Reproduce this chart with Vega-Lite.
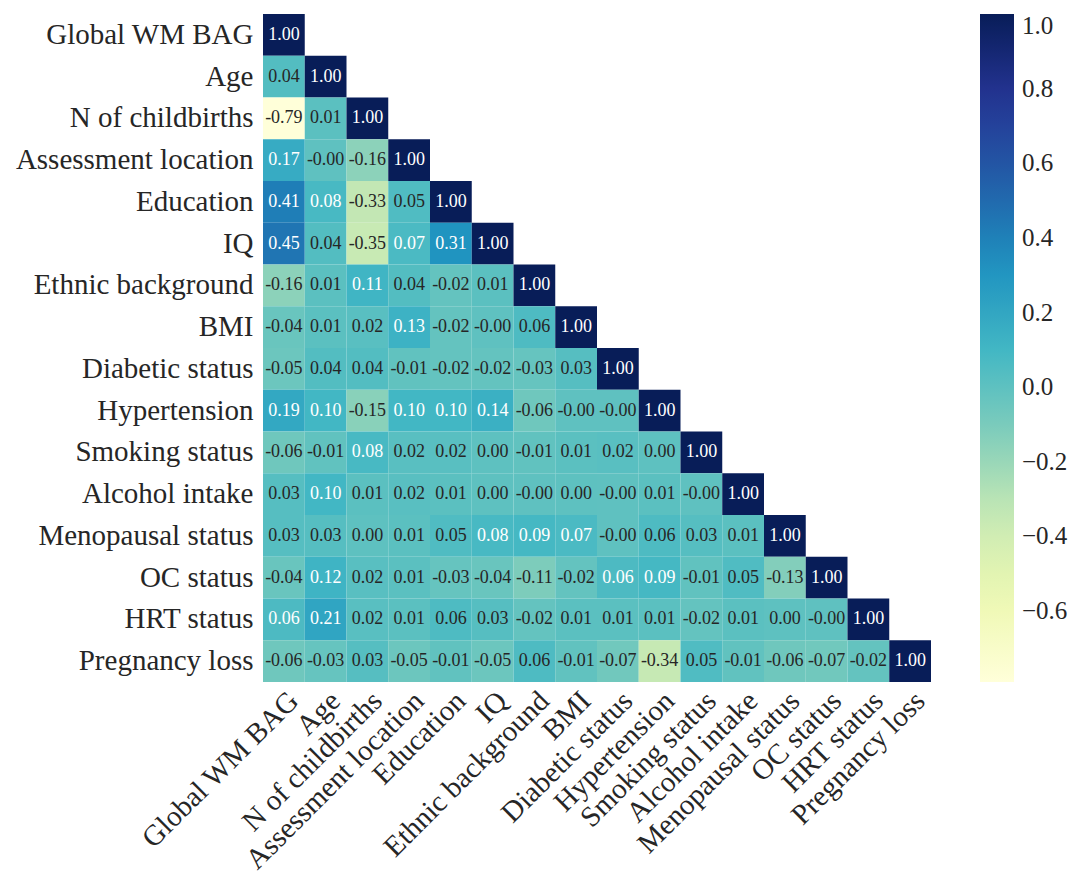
{
  "$schema": "https://vega.github.io/schema/vega-lite/v6.json",
  "width": 668,
  "height": 668,
  "background": "white",
  "padding": {"left": 15, "top": 14, "right": 5, "bottom": 5},
  "config": {
    "view": {"stroke": null},
    "font": "Liberation Serif"
  },
  "datasets": {
    "m": [
      {"r":"Global WM BAG","c":"Global WM BAG","v":1.0},
      {"r":"Age","c":"Global WM BAG","v":0.04},{"r":"Age","c":"Age","v":1.0},
      {"r":"N of childbirths","c":"Global WM BAG","v":-0.79},{"r":"N of childbirths","c":"Age","v":0.01},{"r":"N of childbirths","c":"N of childbirths","v":1.0},
      {"r":"Assessment location","c":"Global WM BAG","v":0.17},{"r":"Assessment location","c":"Age","v":-0.002},{"r":"Assessment location","c":"N of childbirths","v":-0.16},{"r":"Assessment location","c":"Assessment location","v":1.0},
      {"r":"Education","c":"Global WM BAG","v":0.41},{"r":"Education","c":"Age","v":0.08},{"r":"Education","c":"N of childbirths","v":-0.33},{"r":"Education","c":"Assessment location","v":0.05},{"r":"Education","c":"Education","v":1.0},
      {"r":"IQ","c":"Global WM BAG","v":0.45},{"r":"IQ","c":"Age","v":0.04},{"r":"IQ","c":"N of childbirths","v":-0.35},{"r":"IQ","c":"Assessment location","v":0.07},{"r":"IQ","c":"Education","v":0.31},{"r":"IQ","c":"IQ","v":1.0},
      {"r":"Ethnic background","c":"Global WM BAG","v":-0.16},{"r":"Ethnic background","c":"Age","v":0.01},{"r":"Ethnic background","c":"N of childbirths","v":0.11},{"r":"Ethnic background","c":"Assessment location","v":0.04},{"r":"Ethnic background","c":"Education","v":-0.02},{"r":"Ethnic background","c":"IQ","v":0.01},{"r":"Ethnic background","c":"Ethnic background","v":1.0},
      {"r":"BMI","c":"Global WM BAG","v":-0.04},{"r":"BMI","c":"Age","v":0.01},{"r":"BMI","c":"N of childbirths","v":0.02},{"r":"BMI","c":"Assessment location","v":0.13},{"r":"BMI","c":"Education","v":-0.02},{"r":"BMI","c":"IQ","v":-0.002},{"r":"BMI","c":"Ethnic background","v":0.058},{"r":"BMI","c":"BMI","v":1.0},
      {"r":"Diabetic status","c":"Global WM BAG","v":-0.05},{"r":"Diabetic status","c":"Age","v":0.04},{"r":"Diabetic status","c":"N of childbirths","v":0.04},{"r":"Diabetic status","c":"Assessment location","v":-0.01},{"r":"Diabetic status","c":"Education","v":-0.02},{"r":"Diabetic status","c":"IQ","v":-0.02},{"r":"Diabetic status","c":"Ethnic background","v":-0.03},{"r":"Diabetic status","c":"BMI","v":0.03},{"r":"Diabetic status","c":"Diabetic status","v":1.0},
      {"r":"Hypertension","c":"Global WM BAG","v":0.19},{"r":"Hypertension","c":"Age","v":0.10},{"r":"Hypertension","c":"N of childbirths","v":-0.15},{"r":"Hypertension","c":"Assessment location","v":0.10},{"r":"Hypertension","c":"Education","v":0.10},{"r":"Hypertension","c":"IQ","v":0.14},{"r":"Hypertension","c":"Ethnic background","v":-0.06},{"r":"Hypertension","c":"BMI","v":-0.002},{"r":"Hypertension","c":"Diabetic status","v":-0.002},{"r":"Hypertension","c":"Hypertension","v":1.0},
      {"r":"Smoking status","c":"Global WM BAG","v":-0.06},{"r":"Smoking status","c":"Age","v":-0.01},{"r":"Smoking status","c":"N of childbirths","v":0.08},{"r":"Smoking status","c":"Assessment location","v":0.02},{"r":"Smoking status","c":"Education","v":0.02},{"r":"Smoking status","c":"IQ","v":0.002},{"r":"Smoking status","c":"Ethnic background","v":-0.01},{"r":"Smoking status","c":"BMI","v":0.01},{"r":"Smoking status","c":"Diabetic status","v":0.02},{"r":"Smoking status","c":"Hypertension","v":0.002},{"r":"Smoking status","c":"Smoking status","v":1.0},
      {"r":"Alcohol intake","c":"Global WM BAG","v":0.03},{"r":"Alcohol intake","c":"Age","v":0.10},{"r":"Alcohol intake","c":"N of childbirths","v":0.01},{"r":"Alcohol intake","c":"Assessment location","v":0.02},{"r":"Alcohol intake","c":"Education","v":0.01},{"r":"Alcohol intake","c":"IQ","v":0.002},{"r":"Alcohol intake","c":"Ethnic background","v":-0.002},{"r":"Alcohol intake","c":"BMI","v":0.002},{"r":"Alcohol intake","c":"Diabetic status","v":-0.002},{"r":"Alcohol intake","c":"Hypertension","v":0.01},{"r":"Alcohol intake","c":"Smoking status","v":-0.002},{"r":"Alcohol intake","c":"Alcohol intake","v":1.0},
      {"r":"Menopausal status","c":"Global WM BAG","v":0.03},{"r":"Menopausal status","c":"Age","v":0.03},{"r":"Menopausal status","c":"N of childbirths","v":0.002},{"r":"Menopausal status","c":"Assessment location","v":0.01},{"r":"Menopausal status","c":"Education","v":0.05},{"r":"Menopausal status","c":"IQ","v":0.08},{"r":"Menopausal status","c":"Ethnic background","v":0.09},{"r":"Menopausal status","c":"BMI","v":0.07},{"r":"Menopausal status","c":"Diabetic status","v":-0.002},{"r":"Menopausal status","c":"Hypertension","v":0.058},{"r":"Menopausal status","c":"Smoking status","v":0.03},{"r":"Menopausal status","c":"Alcohol intake","v":0.01},{"r":"Menopausal status","c":"Menopausal status","v":1.0},
      {"r":"OC status","c":"Global WM BAG","v":-0.04},{"r":"OC status","c":"Age","v":0.12},{"r":"OC status","c":"N of childbirths","v":0.02},{"r":"OC status","c":"Assessment location","v":0.01},{"r":"OC status","c":"Education","v":-0.03},{"r":"OC status","c":"IQ","v":-0.04},{"r":"OC status","c":"Ethnic background","v":-0.11},{"r":"OC status","c":"BMI","v":-0.02},{"r":"OC status","c":"Diabetic status","v":0.063},{"r":"OC status","c":"Hypertension","v":0.09},{"r":"OC status","c":"Smoking status","v":-0.01},{"r":"OC status","c":"Alcohol intake","v":0.05},{"r":"OC status","c":"Menopausal status","v":-0.13},{"r":"OC status","c":"OC status","v":1.0},
      {"r":"HRT status","c":"Global WM BAG","v":0.063},{"r":"HRT status","c":"Age","v":0.21},{"r":"HRT status","c":"N of childbirths","v":0.02},{"r":"HRT status","c":"Assessment location","v":0.01},{"r":"HRT status","c":"Education","v":0.058},{"r":"HRT status","c":"IQ","v":0.03},{"r":"HRT status","c":"Ethnic background","v":-0.02},{"r":"HRT status","c":"BMI","v":0.01},{"r":"HRT status","c":"Diabetic status","v":0.01},{"r":"HRT status","c":"Hypertension","v":0.01},{"r":"HRT status","c":"Smoking status","v":-0.02},{"r":"HRT status","c":"Alcohol intake","v":0.01},{"r":"HRT status","c":"Menopausal status","v":0.002},{"r":"HRT status","c":"OC status","v":-0.002},{"r":"HRT status","c":"HRT status","v":1.0},
      {"r":"Pregnancy loss","c":"Global WM BAG","v":-0.06},{"r":"Pregnancy loss","c":"Age","v":-0.03},{"r":"Pregnancy loss","c":"N of childbirths","v":0.03},{"r":"Pregnancy loss","c":"Assessment location","v":-0.05},{"r":"Pregnancy loss","c":"Education","v":-0.01},{"r":"Pregnancy loss","c":"IQ","v":-0.05},{"r":"Pregnancy loss","c":"Ethnic background","v":0.058},{"r":"Pregnancy loss","c":"BMI","v":-0.01},{"r":"Pregnancy loss","c":"Diabetic status","v":-0.07},{"r":"Pregnancy loss","c":"Hypertension","v":-0.34},{"r":"Pregnancy loss","c":"Smoking status","v":0.05},{"r":"Pregnancy loss","c":"Alcohol intake","v":-0.01},{"r":"Pregnancy loss","c":"Menopausal status","v":-0.06},{"r":"Pregnancy loss","c":"OC status","v":-0.07},{"r":"Pregnancy loss","c":"HRT status","v":-0.02},{"r":"Pregnancy loss","c":"Pregnancy loss","v":1.0}
    ]
  },
  "data": {"name": "m"},
  "transform": [
    {"calculate": "(datum.v < 0 ? '-' : '') + format(abs(datum.v), '.2f')", "as": "label"}
  ],
  "encoding": {
    "x": {
      "field": "c", "type": "ordinal", "title": null,
      "sort": ["Global WM BAG","Age","N of childbirths","Assessment location","Education","IQ","Ethnic background","BMI","Diabetic status","Hypertension","Smoking status","Alcohol intake","Menopausal status","OC status","HRT status","Pregnancy loss"],
      "scale": {"paddingInner": 0, "paddingOuter": 0},
      "axis": {"labelAngle": -45, "labelAlign": "right", "labelBaseline": "top", "labelFontSize": 29, "labelColor": "#262626", "ticks": false, "domain": false, "labelPadding": 4, "labelLimit": 400}
    },
    "y": {
      "field": "r", "type": "ordinal", "title": null,
      "sort": ["Global WM BAG","Age","N of childbirths","Assessment location","Education","IQ","Ethnic background","BMI","Diabetic status","Hypertension","Smoking status","Alcohol intake","Menopausal status","OC status","HRT status","Pregnancy loss"],
      "scale": {"paddingInner": 0, "paddingOuter": 0},
      "axis": {"labelFontSize": 29, "labelColor": "#262626", "ticks": false, "domain": false, "labelPadding": 10, "labelLimit": 400}
    }
  },
  "layer": [
    {
      "mark": {"type": "rect"},
      "encoding": {
        "color": {
          "field": "v", "type": "quantitative", "title": null,
          "scale": {"domain": [-0.79, 1.0], "range": ["#ffffd9","#edf8b1","#c7e9b4","#7fcdbb","#41b6c4","#1d91c0","#225ea8","#253494","#081d58"], "interpolate": "rgb", "nice": false, "zero": false},
          "legend": {"values": [-0.6,-0.4,-0.2,0.0,0.2,0.4,0.6,0.8,1.0], "format": ".1f", "gradientLength": 668, "gradientThickness": 34, "labelFontSize": 25, "labelColor": "#262626", "labelOffset": 8, "labelBaseline": "middle", "offset": 49, "padding": 0, "labelOverlap": false}
        }
      }
    },
    {
      "mark": {"type": "text", "fontSize": 18},
      "encoding": {
        "text": {"field": "label"},
        "color": {"condition": {"test": "datum.v >= 0.06", "value": "white"}, "value": "#262626"}
      }
    }
  ]
}
